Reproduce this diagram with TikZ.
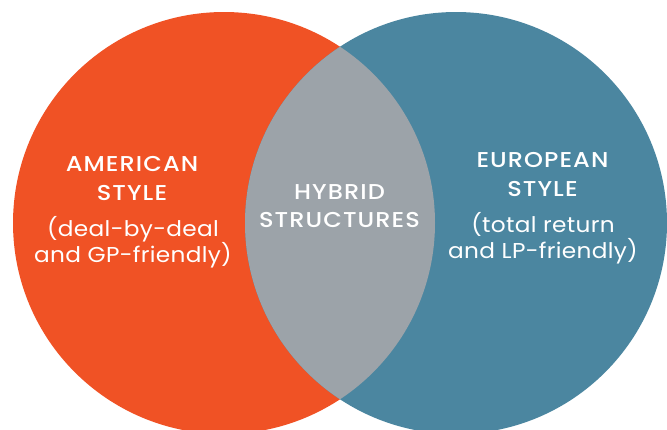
\documentclass[tikz,border=0pt]{standalone}
\usepackage{fontspec}
\setmainfont{Poppins}[BoldFont={Poppins Medium}]
\newfontfamily\headfont{Poppins Medium}[FakeStretch=1.12, LetterSpace=5]
\newfontfamily\notefont{Poppins}[FakeStretch=1.08, LetterSpace=1.5]
\definecolor{amorange}{HTML}{F05225}
\definecolor{eublue}{HTML}{4B86A0}
\definecolor{hybgray}{HTML}{9CA3A9}
\tikzset{
  heading/.style={text=white, font=\fontsize{21.5}{21.5}\selectfont\headfont, anchor=base},
  note/.style={text=white, font=\fontsize{21.5}{21.5}\selectfont\notefont, anchor=base},
}
\begin{document}
\begin{tikzpicture}[x=1pt, y=-1pt]
  \useasboundingbox (0,0) rectangle (667,429);
  % the two overlapping circles
  \fill[amorange] (224,223) circle[radius=211];
  \fill[eublue] (456,223) circle[radius=211];
  % shared region
  \begin{scope}
    \clip (224,223) circle[radius=211];
    \fill[hybgray] (456,223) circle[radius=211];
  \end{scope}
  % American side
  \node[heading] (am1) at (132,171) {AMERICAN};
  \node[heading] (am2) at (132,200) {STYLE};
  \node[note] (am3) at (133,236) {(deal-by-deal};
  \node[note] (am4) at (133,262) {and GP-friendly)};
  % hybrid centre
  \node[heading] (hy1) at (339.5,199) {HYBRID};
  \node[heading] (hy2) at (339.5,227) {STRUCTURES};
  % European side
  \node[heading] (eu1) at (542.5,167) {EUROPEAN};
  \node[heading] (eu2) at (542.5,196) {STYLE};
  \node[note] (eu3) at (543,232) {(total return};
  \node[note] (eu4) at (543,258) {and LP-friendly)};
\end{tikzpicture}
\end{document}
